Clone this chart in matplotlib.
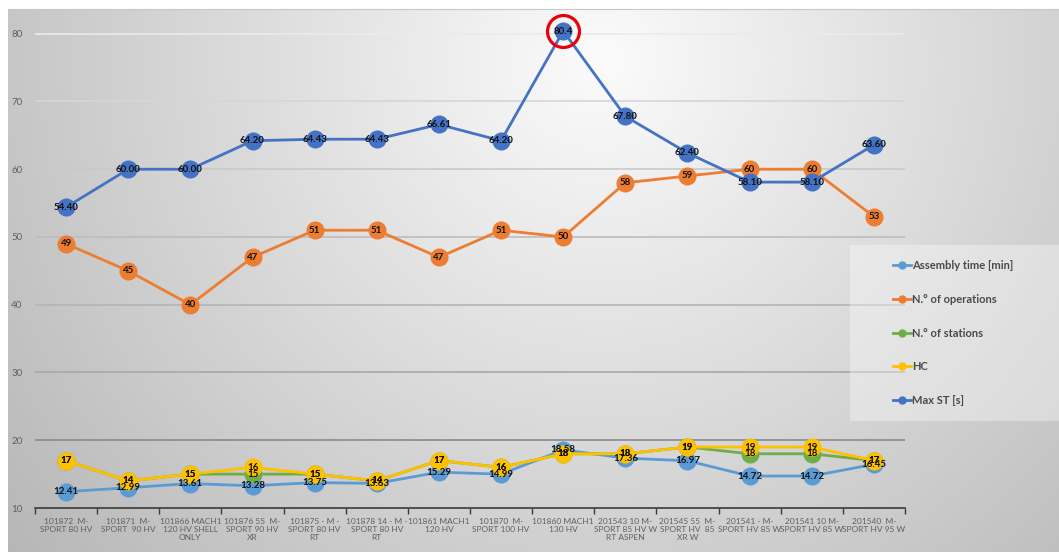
import numpy as np
import matplotlib
matplotlib.use("Agg")
import matplotlib.pyplot as plt
from matplotlib.lines import Line2D
from matplotlib.patches import Rectangle

plt.rcParams['font.family'] = ['Lato', 'DejaVu Sans']

categories = [
    "101872  M-\nSPORT 80 HV",
    "101871  M-\nSPORT  90 HV",
    "101866 MACH1\n120 HV SHELL\nONLY",
    "101876 55  M-\nSPORT 90 HV\nXR",
    "101875 - M -\nSPORT 80 HV\nRT",
    "101878 14 - M -\nSPORT 80 HV\nRT",
    "101861 MACH1\n120 HV",
    "101870  M-\nSPORT 100 HV",
    "101860 MACH1\n130 HV",
    "201543 10 M-\nSPORT 85 HV W\nRT ASPEN",
    "201545 55  M-\nSPORT HV  85\nXR W",
    "201541 - M-\nSPORT HV 85 W",
    "201541 10 M-\nSPORT HV 85 W",
    "201540  M-\nSPORT HV 95 W",
]

assembly_time = [12.41, 12.99, 13.61, 13.28, 13.75, 13.63, 15.29, 14.99, 18.58, 17.36, 16.97, 14.72, 14.72, 16.45]
n_operations = [49, 45, 40, 47, 51, 51, 47, 51, 50, 58, 59, 60, 60, 53]
n_stations = [17, 14, 15, 15, 15, 14, 17, 16, 18, 18, 19, 18, 18, 17]
hc = [17, 14, 15, 16, 15, 14, 17, 16, 18, 18, 19, 19, 19, 17]
max_st = [54.40, 60.00, 60.00, 64.20, 64.43, 64.43, 66.61, 64.20, 80.4, 67.80, 62.40, 58.10, 58.10, 63.60]
max_st_labels = ["54.40", "60.00", "60.00", "64.20", "64.43", "64.43", "66.61", "64.20", "80.4",
                 "67.80", "62.40", "58.10", "58.10", "63.60"]

series = [
    ("Assembly time [min]", assembly_time, "#5B9BD5", ["%.2f" % v for v in assembly_time]),
    ("N.\u00b0 of operations", n_operations, "#ED7D31", [str(v) for v in n_operations]),
    ("N.\u00b0 of stations", n_stations, "#70AD47", [str(v) for v in n_stations]),
    ("HC", hc, "#FFC000", [str(v) for v in hc]),
    ("Max ST [s]", max_st, "#4472C4", max_st_labels),
]

W, H = 1059, 552
fig = plt.figure(figsize=(W / 100, H / 100), dpi=100)

# soft grey backdrop, brightest near the upper middle
bg = fig.add_axes([0, 0, 1, 1])
yy, xx = np.mgrid[0:H, 0:W]
d = np.sqrt(((xx - 600) / 600.0) ** 2 + ((yy - 60) / 600.0) ** 2)
val = np.clip(0.985 - 0.21 * d, 0.70, 1.0)
val[(yy < 9) | (xx < 8)] = 1.0
img = np.dstack([val, val, val])
bg.imshow(img, aspect='auto', extent=(0, W, H, 0), interpolation='bilinear')
bg.plot([8, W], [9, 9], color="#c8c8c8", lw=0.8)
bg.set_xlim(0, W)
bg.set_ylim(H, 0)
bg.axis('off')

left, right = 35 / W, 905 / W
bottom = 1 - 508 / H
top = 1 - 10 / H
ax = fig.add_axes([left, bottom, right - left, top - bottom])
ax.patch.set_alpha(0)
n = len(categories)
x = np.arange(n)
ax.set_xlim(-0.5, n - 0.5)
ax.set_ylim(10, 83.5)

grid_colors = {20: "#8a8a8a", 30: "#a8a8a8", 40: "#b4b4b4", 50: "#bdbdbd",
               60: "#c9c9c9", 70: "#d6d6d6", 80: "#ebebeb"}
for yv, c in grid_colors.items():
    ax.axhline(yv, color=c, lw=1.2, zorder=1)

for name, vals, col, labs in series:
    ax.plot(x, vals, color=col, lw=2.0, marker='o', markersize=13,
            markeredgewidth=0, zorder=3)
for name, vals, col, labs in series:
    for xi, v, t in zip(x, vals, labs):
        ax.text(xi, v, t, ha='center', va='center', fontsize=7,
                fontweight='bold', color="#111111", zorder=5)

# highlight the peak Max ST value
ax.plot([8], [max_st[8]], marker='o', markersize=23, markerfacecolor='none',
        markeredgecolor='#e8000b', markeredgewidth=2.3, zorder=6, clip_on=False)

for s in ['top', 'right', 'left']:
    ax.spines[s].set_visible(False)
ax.spines['bottom'].set_color("#3a3a3a")
ax.spines['bottom'].set_linewidth(1.2)

ax.set_yticks([10, 20, 30, 40, 50, 60, 70, 80])
ax.tick_params(axis='y', length=0, labelsize=7, labelcolor="#606060", pad=9)
ax.set_xticks(x)
ax.set_xticklabels(categories, fontsize=6.0, color="#606060", linespacing=1.2)
ax.tick_params(axis='x', length=0, pad=7)
ax.set_xticks(np.arange(-0.5, n, 1), minor=True)
ax.tick_params(axis='x', which='minor', length=4, color="#3a3a3a", width=1)

# legend panel
fig.patches.append(Rectangle((850 / W, 1 - 421 / H), 209 / W, 176 / H,
                             transform=fig.transFigure, facecolor='white',
                             alpha=0.35, edgecolor='none', zorder=2))
handles = [Line2D([0], [0], color=col, lw=2, marker='o', markersize=5)
           for name, vals, col, labs in series]
leg = fig.legend(handles, [s[0] for s in series], loc='upper left',
                 bbox_to_anchor=(883 / W, 1 - 250 / H), frameon=False,
                 handlelength=1.6, handletextpad=0.1, labelspacing=2.05,
                 prop={'size': 8, 'weight': 'bold'})
for t in leg.get_texts():
    t.set_color("#4a4a4a")

fig.savefig("out.png", dpi=100)
